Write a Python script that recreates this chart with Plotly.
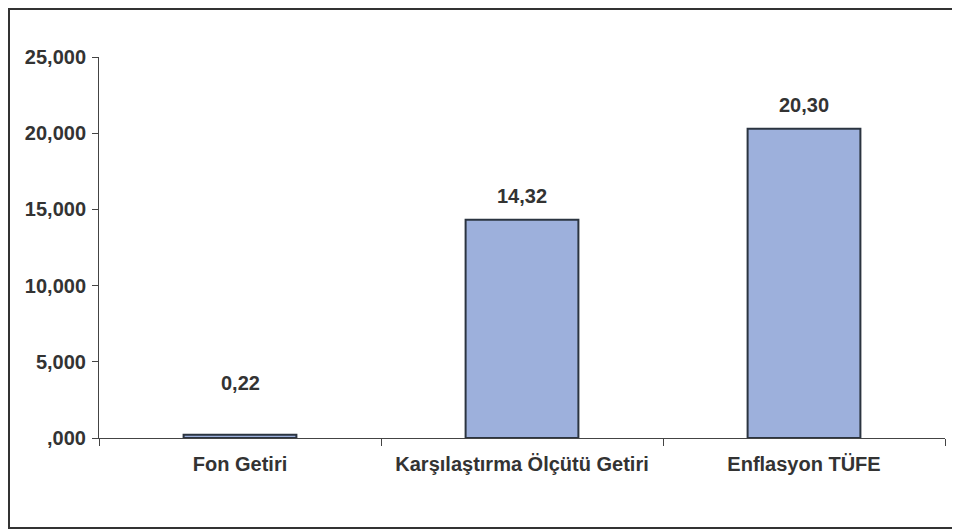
import plotly.graph_objects as go

categories = ["Fon Getiri", "Karşılaştırma Ölçütü Getiri", "Enflasyon TÜFE"]
values = [0.22, 14.32, 20.30]
tick_vals = [0, 5, 10, 15, 20, 25]
tick_text = [",000", "5,000", "10,000", "15,000", "20,000", "25,000"]

FONT = "Arial, Liberation Sans, sans-serif"
TXT = "#333333"
FS = 20
label_shift = [52, 24, 24]

# figure-pixel geometry of the plot area (page is offset 8px by body margin)
L, R, T, B = 91, 23, 49, 101
PW, PH = 960 - L - R, 531 - T - B

fig = go.Figure()
fig.add_trace(go.Bar(
    x=categories, y=values,
    marker=dict(color="#9DB0DC", line=dict(color="#2B3440", width=2)),
    width=0.40,
    hoverinfo="skip",
))

for c, v, s in zip(categories, values, label_shift):
    fig.add_annotation(
        x=c, y=v, text="<b>" + f"{v:.2f}".replace(".", ",") + "</b>",
        showarrow=False, yanchor="middle", yshift=s,
        font=dict(family=FONT, size=FS, color=TXT),
    )

fig.update_layout(
    width=960, height=531,
    margin=dict(l=L, r=R, t=T, b=B),
    paper_bgcolor="white", plot_bgcolor="white",
    showlegend=False,
    font=dict(family=FONT, size=FS, color=TXT),
    xaxis=dict(
        showline=True, linecolor="#444444", linewidth=1,
        ticks="outside", ticklen=7, tickcolor="#444444", tickson="boundaries",
        showgrid=False, zeroline=False,
        tickfont=dict(family=FONT, size=FS, color=TXT),
        tickvals=categories,
        ticktext=["<b>" + c + "</b>" for c in categories],
        ticklabelstandoff=8,
    ),
    yaxis=dict(
        range=[0, 25], tickvals=tick_vals,
        ticktext=["<b>" + t + "</b>" for t in tick_text],
        showline=True, linecolor="#444444", linewidth=1,
        ticks="outside", ticklen=6, tickcolor="#444444",
        showgrid=False, zeroline=False,
        tickfont=dict(family=FONT, size=FS, color=TXT),
        ticklabelstandoff=2,
    ),
)

# outer chart frame
fig.add_shape(
    type="rect", xref="paper", yref="paper",
    x0=(1 - L) / PW, x1=(966 - L) / PW,
    y0=((531 - B) - 520) / PH, y1=((531 - B) - 1) / PH,
    line=dict(color="#333333", width=2),
    layer="below",
)

fig.write_html("out.html")
